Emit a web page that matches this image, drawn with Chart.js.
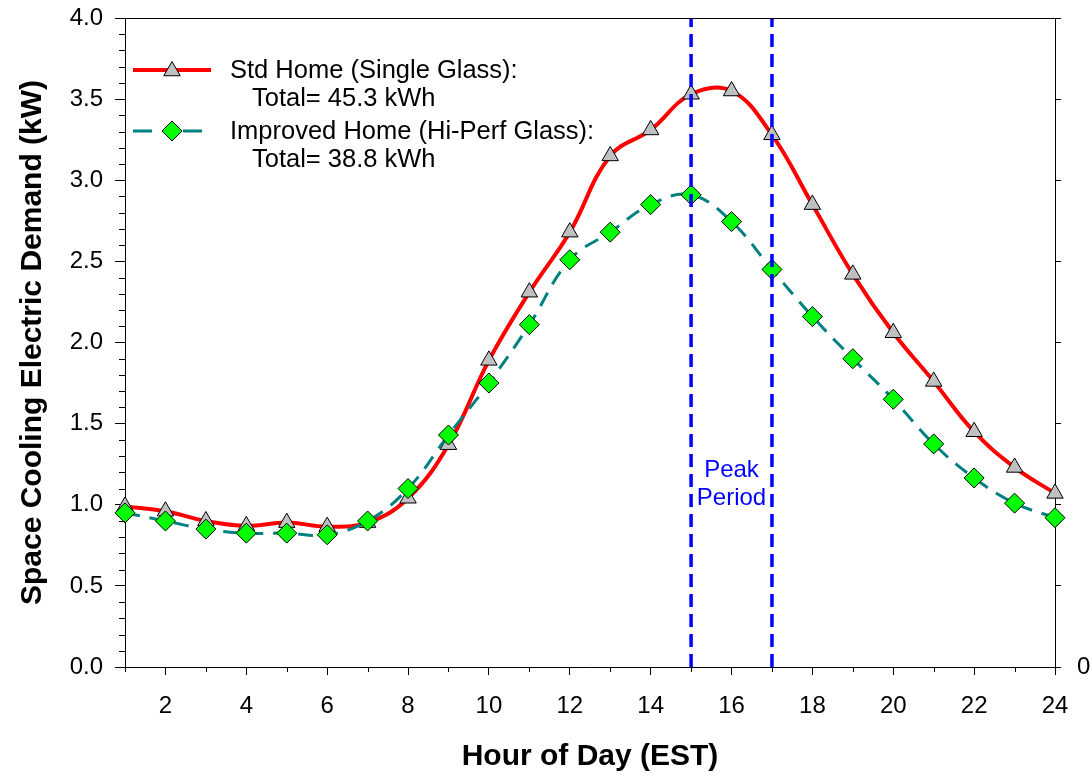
<!DOCTYPE html>
<html>
<head>
<meta charset="utf-8">
<script src="https://cdn.jsdelivr.net/npm/chart.js@4/dist/chart.umd.min.js"></script>
<style>
  html, body { margin: 0; padding: 0; background: #fff; }
  #wrap { width: 1092px; height: 779px; }
</style>
</head>
<body>
<div id="wrap"><canvas id="c" width="1092" height="779"></canvas></div>
<script>
// ---- data ----
const hours = [1,2,3,4,5,6,7,8,9,10,11,12,13,14,15,16,17,18,19,20,21,22,23,24];
const stdHome = [0.99,0.96,0.90,0.87,0.89,0.865,0.89,1.04,1.37,1.89,2.31,2.68,3.15,3.31,3.53,3.55,3.28,2.85,2.42,2.06,1.76,1.45,1.23,1.07];
const improvedHome = [0.95,0.90,0.85,0.825,0.825,0.815,0.90,1.10,1.43,1.75,2.11,2.51,2.68,2.85,2.91,2.745,2.45,2.16,1.90,1.65,1.375,1.165,1.01,0.92];
const peakStart = 15;
const peakEnd = 17;
const yTickValues = [0,0.5,1.0,1.5,2.0,2.5,3.0,3.5,4.0];
const yMinorValues = [0.1,0.2,0.3,0.4,0.6,0.7,0.8,0.9,1.1,1.2,1.3,1.4,1.6,1.7,1.8,1.9,2.1,2.2,2.3,2.4,2.6,2.7,2.8,2.9,3.1,3.2,3.3,3.4,3.6,3.7,3.8,3.9];
const xTickValues = [2,4,6,8,10,12,14,16,18,20,22,24];
const xMinorValues = [1,3,5,7,9,11,13,15,17,19,21,23];
const legendLabels = [
  ["Std Home (Single Glass):", "Total= 45.3 kWh"],
  ["Improved Home (Hi-Perf Glass):", "Total= 38.8 kWh"]
];
const peakLabel = ["Peak", "Period"];
const xTitle = "Hour of Day (EST)";
const yTitle = "Space Cooling Electric Demand (kW)";

const FONT = "'Liberation Sans', Arial, Helvetica, sans-serif";
const toXY = (ys) => hours.map((h, i) => ({x: h, y: ys[i]}));
const noPad = (s) => { s.paddingTop = 0; s.paddingBottom = 0; s.paddingLeft = 0; s.paddingRight = 0; };

const extras = {
  id: 'extras',
  afterDraw(chart) {
    const ctx = chart.ctx;
    const xs = chart.scales.x, ys = chart.scales.y;
    const ca = chart.chartArea;
    ctx.save();
    ctx.strokeStyle = '#000';
    ctx.lineWidth = 1;
    ctx.beginPath();
    ctx.moveTo(ca.left, ca.top + 0.5);
    ctx.lineTo(ca.right, ca.top + 0.5);
    ctx.stroke();
    ctx.beginPath();
    yMinorValues.forEach(v => {
      const py = Math.round(ys.getPixelForValue(v)) + 0.5;
      ctx.moveTo(ca.left - 6, py); ctx.lineTo(ca.left, py);
    });
    xMinorValues.forEach(v => {
      const px = Math.round(xs.getPixelForValue(v)) + 0.5;
      ctx.moveTo(px, ca.bottom); ctx.lineTo(px, ca.bottom + 5);
    });
    ctx.stroke();

    ctx.fillStyle = '#0000ff';
    ctx.font = "24px " + FONT;
    ctx.textAlign = 'center';
    ctx.textBaseline = 'middle';
    const cx = xs.getPixelForValue((peakStart + peakEnd) / 2);
    ctx.fillText(peakLabel[0], cx, ys.getPixelForValue(1.21));
    ctx.fillText(peakLabel[1], cx, ys.getPixelForValue(1.04));

    ctx.strokeStyle = '#ff0000';
    ctx.lineWidth = 4;
    ctx.beginPath(); ctx.moveTo(133, 70); ctx.lineTo(211, 70); ctx.stroke();
    ctx.fillStyle = '#c0c0c0';
    ctx.strokeStyle = '#000';
    ctx.lineWidth = 1;
    const r = 9.5;
    ctx.beginPath();
    ctx.moveTo(172, 71 - r);
    ctx.lineTo(172 + r * Math.sin(2*Math.PI/3), 71 + r/2);
    ctx.lineTo(172 - r * Math.sin(2*Math.PI/3), 71 + r/2);
    ctx.closePath(); ctx.fill(); ctx.stroke();
    ctx.strokeStyle = '#008080';
    ctx.lineWidth = 3;
    ctx.beginPath();
    ctx.moveTo(133, 131); ctx.lineTo(152, 131);
    ctx.moveTo(183, 131); ctx.lineTo(202, 131);
    ctx.stroke();
    ctx.fillStyle = '#00ff00';
    ctx.strokeStyle = '#000';
    ctx.lineWidth = 1;
    const d = 10;
    ctx.beginPath();
    ctx.moveTo(172, 131 - d); ctx.lineTo(172 + d, 131); ctx.lineTo(172, 131 + d); ctx.lineTo(172 - d, 131);
    ctx.closePath(); ctx.fill(); ctx.stroke();
    ctx.fillStyle = '#000';
    ctx.font = "25.5px " + FONT;
    ctx.textAlign = 'left';
    ctx.textBaseline = 'middle';
    ctx.fillText(legendLabels[0][0], 230, 71);
    ctx.fillText(legendLabels[0][1], 252, 99);
    ctx.fillText(legendLabels[1][0], 230, 132);
    ctx.fillText(legendLabels[1][1], 252, 160);
    ctx.restore();
  }
};

new Chart(document.getElementById('c'), {
  type: 'line',
  data: {
    datasets: [
      {
        label: 'Peak start',
        data: [{x: peakStart, y: 0}, {x: peakStart, y: 4}],
        borderColor: '#0000ff', borderWidth: 3.5, borderDash: [13, 7],
        pointRadius: 0, tension: 0, order: 0, clip: false
      },
      {
        label: 'Peak end',
        data: [{x: peakEnd, y: 0}, {x: peakEnd, y: 4}],
        borderColor: '#0000ff', borderWidth: 3.5, borderDash: [13, 7],
        pointRadius: 0, tension: 0, order: 0, clip: false
      },
      {
        label: 'Improved Home (Hi-Perf Glass)',
        data: toXY(improvedHome),
        borderColor: '#008080', borderWidth: 3, borderDash: [15, 10],
        pointStyle: 'rectRot', pointRadius: 10, pointBackgroundColor: '#00ff00',
        pointBorderColor: '#000', pointBorderWidth: 1,
        tension: 0.4, order: 1, clip: false
      },
      {
        label: 'Std Home (Single Glass)',
        data: toXY(stdHome),
        borderColor: '#ff0000', borderWidth: 4,
        pointStyle: 'triangle', pointRadius: 9.5, pointBackgroundColor: '#c0c0c0',
        pointBorderColor: '#000', pointBorderWidth: 1,
        tension: 0.4, order: 2, clip: false
      }
    ]
  },
  options: {
    responsive: false,
    animation: false,
    devicePixelRatio: 1,
    layout: { padding: { top: 18, left: 0, right: 0, bottom: 0 } },
    plugins: { legend: { display: false }, tooltip: { enabled: false } },
    scales: {
      x: {
        type: 'linear', min: 1, max: 24, position: 'bottom',
        afterBuildTicks: s => { s.ticks = xTickValues.map(v => ({value: v})); },
        afterFit: s => { s.height = 112; noPad(s); },
        grid: { drawOnChartArea: false, drawTicks: true, tickLength: 8, color: '#000', lineWidth: 1 },
        border: { display: true, color: '#000', width: 1 },
        ticks: { color: '#000', font: { family: FONT, size: 24 }, padding: 17, maxRotation: 0, autoSkip: false },
        title: { display: true, text: xTitle, color: '#000', font: { family: FONT, size: 30, weight: 'bold' }, padding: { top: 0, bottom: 4 } }
      },
      y: {
        type: 'linear', min: 0, max: 4, position: 'left',
        afterBuildTicks: s => { s.ticks = yTickValues.map(v => ({value: v})); },
        afterFit: s => { s.width = 125; noPad(s); },
        grid: { drawOnChartArea: false, drawTicks: true, tickLength: 10, color: '#000', lineWidth: 1 },
        border: { display: true, color: '#000', width: 1 },
        ticks: { color: '#000', font: { family: FONT, size: 24 }, padding: 12, callback: v => v.toFixed(1) },
        title: { display: true, text: yTitle, color: '#000', font: { family: FONT, size: 30, weight: 'bold' }, padding: { top: 15, bottom: 0 } }
      },
      y2: {
        type: 'linear', min: 0, max: 4, position: 'right',
        afterBuildTicks: s => { s.ticks = yTickValues.map(v => ({value: v})); },
        afterFit: s => { s.width = 37; noPad(s); },
        grid: { drawOnChartArea: false, drawTicks: true, tickLength: 6, color: '#000', lineWidth: 1 },
        border: { display: true, color: '#000', width: 1 },
        ticks: { color: '#000', font: { family: FONT, size: 24 }, padding: 16, callback: v => (v === 0 ? '0' : '') }
      }
    }
  },
  plugins: [extras]
});
</script>
</body>
</html>
